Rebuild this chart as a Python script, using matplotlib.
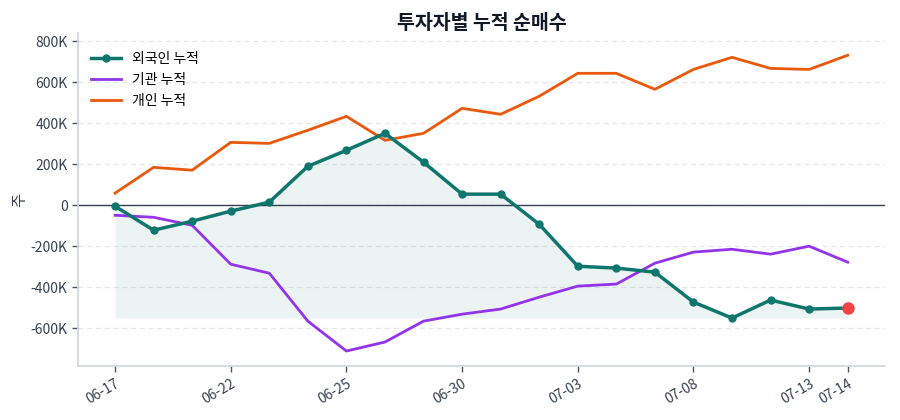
import matplotlib
matplotlib.use("Agg")
import matplotlib.pyplot as plt
from matplotlib.ticker import FuncFormatter, MultipleLocator

plt.rcParams['font.family'] = ['Noto Sans CJK KR', 'DejaVu Sans']

dates = ["06-17", "06-18", "06-19", "06-22", "06-23", "06-24", "06-25", "06-26",
         "06-29", "06-30", "07-01", "07-02", "07-03", "07-06", "07-07", "07-08",
         "07-09", "07-10", "07-13", "07-14"]
foreign = [-5, -122, -78, -29, 15, 190, 268, 351, 210, 54, 54, -93, -298, -307,
           -327, -473, -551, -463, -507, -502]
institution = [-49, -59, -98, -288, -332, -566, -712, -668, -566, -532, -507, -449,
               -395, -385, -283, -229, -215, -239, -200, -278]
individual = [59, 185, 171, 307, 302, 366, 434, 317, 351, 473, 444, 532, 644, 644,
              566, 663, 722, 668, 663, 732]
tick_idx = [0, 3, 6, 9, 12, 15, 18, 19]

foreign = [v * 1000 for v in foreign]
institution = [v * 1000 for v in institution]
individual = [v * 1000 for v in individual]
x = list(range(len(dates)))

fig = plt.figure(figsize=(9, 4.2), dpi=100)
ax = fig.add_axes([0.0867, 0.1286, 0.8963, 0.7924])

teal = "#0f766e"
purple = "#9333ea"
orange = "#ea580c"

base = min(foreign)
ax.fill_between(x, foreign, base, color=teal, alpha=0.08, linewidth=0)
ax.axhline(0, color="#374151", linewidth=1.0, zorder=1)
ax.plot(x, foreign, color=teal, linewidth=2.5, marker="o", markersize=5, label="외국인 누적", zorder=4)
ax.plot(x, institution, color=purple, linewidth=2, label="기관 누적", zorder=3)
ax.plot(x, individual, color=orange, linewidth=2, label="개인 누적", zorder=3)
ax.plot([x[-1]], [foreign[-1]], "o", color="#ef4444", markersize=8, zorder=5)

ax.set_xlim(-0.96, 19.96)
ax.set_ylim(-785000, 840000)
ax.yaxis.set_major_locator(MultipleLocator(200000))

def fmt(v, pos):
    if abs(v) < 1:
        return "0"
    return f"{int(round(v / 1000))}K"

ax.yaxis.set_major_formatter(FuncFormatter(fmt))
ax.set_xticks(tick_idx)
ax.set_xticklabels([dates[i] for i in tick_idx], rotation=30, ha="right", rotation_mode="anchor")

ax.grid(axis="y", linestyle=(0, (4, 3)), color="#e5e7eb", linewidth=0.9)
ax.set_axisbelow(True)
for s in ["top", "right"]:
    ax.spines[s].set_visible(False)
for s in ["left", "bottom"]:
    ax.spines[s].set_color("#d1d5db")
    ax.spines[s].set_linewidth(1.2)
ax.tick_params(axis="both", colors="#4b5563", labelsize=10, length=4, width=1)
ax.tick_params(axis="both", labelcolor="#374151")

ax.set_ylabel("주", fontsize=11, color="#374151", labelpad=2)
ax.set_title("투자자별 누적 순매수", fontsize=14, fontweight="bold", color="#111827", pad=1)

leg = ax.legend(loc="upper left", frameon=False, fontsize=10, handlelength=2.2,
                bbox_to_anchor=(0.0, 0.98))

fig.savefig("out.png", dpi=100)
